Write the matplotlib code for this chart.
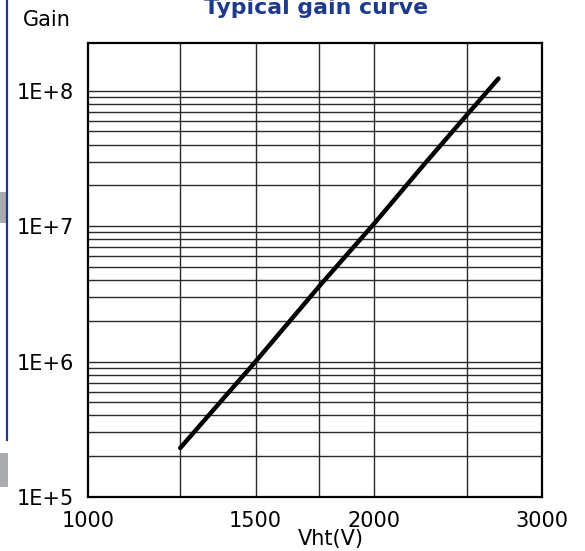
import matplotlib
matplotlib.use("Agg")
import matplotlib.pyplot as plt
from matplotlib.patches import Rectangle
from matplotlib.lines import Line2D

# data
vht = [1250, 1500, 1750, 2000, 2250, 2500, 2700]
gain = [2.3e5, 1.0e6, 3.6e6, 1.05e7, 2.8e7, 6.6e7, 1.23e8]

x_ticks = [1000, 1500, 2000, 3000]
x_labels = ["1000", "1500", "2000", "3000"]
x_grid = [1250, 1500, 1750, 2000, 2500]
y_ticks = [1e5, 1e6, 1e7, 1e8]
y_labels = ["1E+5", "1E+6", "1E+7", "1E+8"]

NAVY = "#1F3A8C"
FONT = "DejaVu Sans"
FS = 15

W, H = 585, 551
fig = plt.figure(figsize=(W / 100, H / 100), dpi=100)
ax = fig.add_axes([88 / W, 1 - 497 / H, 454 / W, 454 / H])

ax.set_xscale("log")
ax.set_yscale("log")
ax.set_xlim(1000, 3000)
ax.set_ylim(1e5, 2.25e8)

# grid: every 1..9 step inside each decade, plus a few fixed verticals
for d in range(5, 8):
    for m in range(1, 10):
        v = m * 10 ** d
        if v > 1e5:
            ax.axhline(v, color="#2a2a2a", lw=1.0, zorder=1)
ax.axhline(1e8, color="#2a2a2a", lw=1.0, zorder=1)
for xv in x_grid:
    ax.axvline(xv, color="#2a2a2a", lw=1.0, zorder=1)

ax.plot(vht, gain, color="black", lw=3.2, solid_capstyle="round", zorder=3)

ax.minorticks_off()
ax.set_xticks(x_ticks)
ax.set_xticklabels(x_labels)
ax.set_yticks(y_ticks)
ax.set_yticklabels(y_labels)
ax.tick_params(axis="both", length=0, labelsize=FS)
ax.tick_params(axis="x", pad=10)
ax.tick_params(axis="y", pad=10)
for lab in ax.get_xticklabels() + ax.get_yticklabels():
    lab.set_fontfamily(FONT)

for sp in ax.spines.values():
    sp.set_linewidth(1.6)
    sp.set_color("black")
    sp.set_zorder(4)

fig.text(316 / W, 1 - 14 / H, "Typical gain curve", ha="center", va="baseline",
         fontsize=15.8, fontweight="bold", color=NAVY, family=FONT)
fig.text(47 / W, 1 - 20 / H, "Gain", ha="center", va="center",
         fontsize=FS, family=FONT)
fig.text(331 / W, 1 - 539 / H, "Vht(V)", ha="center", va="center",
         fontsize=FS, family=FONT)

# page decorations at the left edge
fig.add_artist(Line2D([6.5 / W, 6.5 / W], [1 - 440 / H, 1], color=NAVY, lw=1.6))
fig.add_artist(Rectangle((0, 1 - 223 / H), 7 / W, 31 / H, color="#A9ABAE", lw=0))
fig.add_artist(Rectangle((0, 1 - 487 / H), 8 / W, 34 / H, color="#A9ABAE", lw=0))

fig.savefig("out.png", dpi=100)
